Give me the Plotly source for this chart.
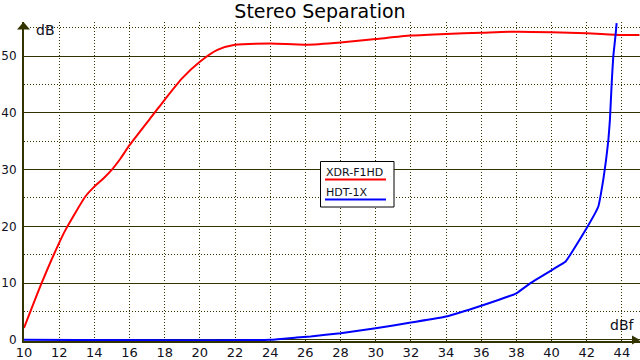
import plotly.graph_objects as go

# ---- data ----
xdr_x = [10, 11, 12, 12.4, 13.5, 14, 14.5, 15, 15.5, 16, 17.4, 18, 19, 20, 21, 22, 24, 26, 28, 30, 32, 34, 36, 38, 40, 42, 44, 45]
xdr_y = [2.1, 10, 17.1, 19.6, 25.3, 27, 28.4, 30.0, 32.0, 34.3, 39.9, 42.3, 46.1, 49, 51.1, 52, 52.2, 52, 52.4, 53, 53.6, 53.9, 54.1, 54.3, 54.2, 54.0, 53.7, 53.7]

hdt_x = [10, 24, 25.5, 26.3, 28, 30, 32, 34, 36, 38, 38.8, 40.5, 40.8, 42.0, 42.66, 42.94, 43.1, 43.23, 43.32, 43.42, 43.51, 43.65, 43.7]
hdt_y = [0, 0, 0.4, 0.6, 1.17, 2.05, 3.05, 4.1, 6.0, 8.2, 10.0, 13.2, 13.8, 19.7, 23.5, 28.2, 31.7, 35.2, 38.8, 45.2, 49.9, 54.0, 55.8]

x_ticks = list(range(10, 46, 2))
y_ticks = [0, 10, 20, 30, 40, 50]

W, H = 640, 360
ML, MR, MT, MB = 24, 0, 22, 19
AX = "#333300"
FONT = "DejaVu Sans"

def px(x):
    return (x - ML) / (W - ML - MR)

def py(y):
    return (H - MB - y) / (H - MT - MB)

fig = go.Figure()
fig.add_trace(go.Scatter(x=xdr_x, y=xdr_y, mode="lines", name="XDR-F1HD",
                         line=dict(color="#ff0000", width=2, shape="spline", smoothing=0.6)))
fig.add_trace(go.Scatter(x=hdt_x, y=hdt_y, mode="lines", name="HDT-1X",
                         line=dict(color="#0000ff", width=2, shape="spline", smoothing=0.4)))

fig.update_layout(
    width=W, height=H,
    margin=dict(l=ML, r=MR, t=MT, b=MB, autoexpand=False),
    paper_bgcolor="white", plot_bgcolor="white",
    showlegend=False,
    font=dict(family=FONT, size=13, color="#101020"),
    title=dict(text="Stereo Separation", x=0.5, xanchor="center",
               yref="container", y=1 - 11.5 / H, yanchor="middle",
               font=dict(family=FONT, size=19, color="black")),
)

fig.update_xaxes(
    range=[10, 45.03], tickvals=x_ticks, ticktext=[str(v) for v in x_ticks],
    showgrid=True, gridcolor=AX, gridwidth=1, griddash="1px,2px",
    showline=True, linecolor=AX, linewidth=2, zeroline=False, automargin=False,
    ticks="", ticklabelstandoff=-2, layer="below traces", tickfont=dict(size=13),
)
fig.update_yaxes(
    range=[-0.2, 56.0], tickvals=y_ticks, ticktext=[str(v) for v in y_ticks],
    showgrid=True, gridcolor=AX, gridwidth=1,
    minor=dict(dtick=5, tick0=0, showgrid=True, gridcolor=AX, gridwidth=1, griddash="1px,2px"),
    showline=True, linecolor=AX, linewidth=2, zeroline=False, automargin=False,
    ticks="", ticklabelstandoff=3, layer="below traces", tickfont=dict(size=12),
)

shapes = []
# axis arrows
shapes.append(dict(type="path", xref="paper", yref="paper",
                   path=f"M {px(17)} {py(29.5)} L {px(23.5)} {py(22)} L {px(30)} {py(29.5)} Z",
                   fillcolor=AX, line=dict(color=AX, width=0)))
shapes.append(dict(type="path", xref="paper", yref="paper",
                   path=f"M {px(632)} {py(335.5)} L {px(640)} {py(340)} L {px(632)} {py(344.5)} Z",
                   fillcolor=AX, line=dict(color=AX, width=0)))
# legend box
shapes.append(dict(type="rect", xref="paper", yref="paper",
                   x0=px(320.5), x1=px(394), y0=py(161.5), y1=py(207),
                   fillcolor="white", line=dict(color="black", width=1)))
shapes.append(dict(type="line", xref="paper", yref="paper",
                   x0=px(325), x1=px(386), y0=py(179.5), y1=py(179.5),
                   line=dict(color="#ff0000", width=2)))
shapes.append(dict(type="line", xref="paper", yref="paper",
                   x0=px(325), x1=px(386), y0=py(199.5), y1=py(199.5),
                   line=dict(color="#0000ff", width=2)))
fig.update_layout(shapes=shapes)

annotations = [
    dict(text="XDR-F1HD", xref="paper", yref="paper", x=px(324), y=py(172.5),
         xanchor="left", yanchor="middle", showarrow=False,
         font=dict(family=FONT, size=11, color="#101020")),
    dict(text="HDT-1X", xref="paper", yref="paper", x=px(324), y=py(192.5),
         xanchor="left", yanchor="middle", showarrow=False,
         font=dict(family=FONT, size=11, color="#101020")),
    dict(text="dB", xref="paper", yref="paper", x=px(45), y=py(30.5),
         xanchor="center", yanchor="middle", showarrow=False,
         font=dict(family=FONT, size=14, color="#101020")),
    dict(text="dBf", xref="paper", yref="paper", x=px(621.5), y=py(324.5),
         xanchor="center", yanchor="middle", showarrow=False,
         font=dict(family=FONT, size=14, color="#101020")),
]
fig.update_layout(annotations=annotations)

fig.write_html("out.html", config={"displayModeBar": False},
               post_script="document.body.style.margin='0';document.body.style.overflow='hidden';")
